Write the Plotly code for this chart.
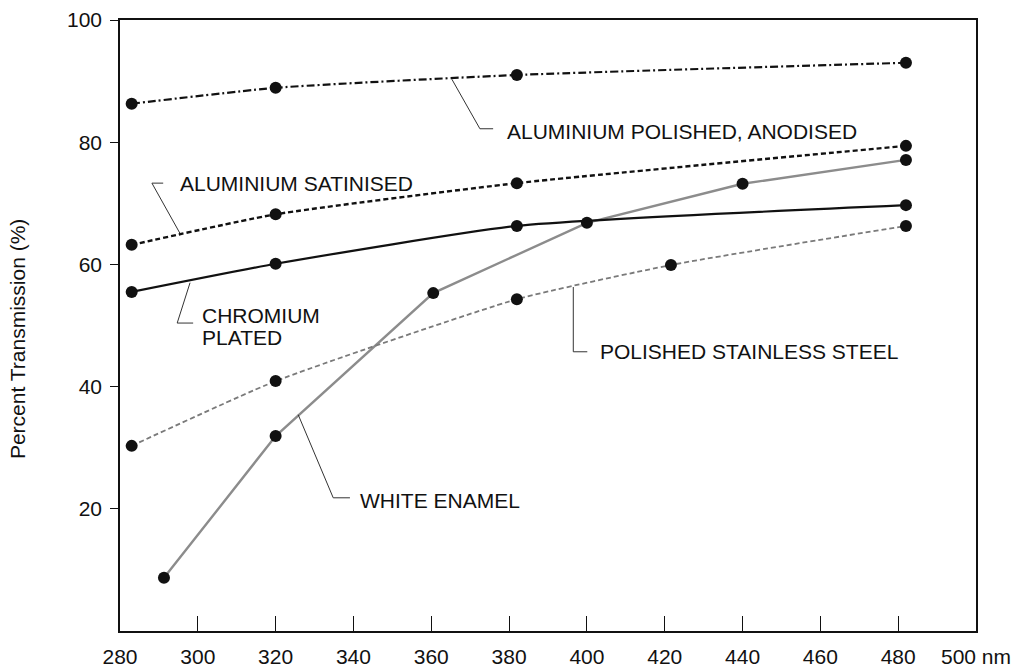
import plotly.graph_objects as go

# ---------------- data ----------------
wl_main = [283, 320, 382, 482]
anodised = [86.3, 88.9, 91.0, 93.0]
satinised = [63.2, 68.2, 73.3, 79.4]
chromium = [55.5, 60.1, 66.3, 69.7]

wl_steel = [283, 320, 382, 421.6, 482]
steel = [30.3, 40.9, 54.3, 59.9, 66.3]

wl_enamel = [291.3, 320, 360.5, 400, 440, 482]
enamel = [8.7, 31.9, 55.3, 66.8, 73.2, 77.1]

x_tickvals = [280, 300, 320, 340, 360, 380, 400, 420, 440, 460, 480, 500]
x_ticktext = ["280", "300", "320", "340", "360", "380", "400", "420", "440", "460", "480", "500 nm"]
y_tickvals = [20, 40, 60, 80, 100]
y_ticktext = ["20", "40", "60", "80", "100"]

# labels: text, text anchor (x, y), leader polyline (data coords)
label_texts = ["ALUMINIUM POLISHED, ANODISED", "ALUMINIUM SATINISED", "CHROMIUM", "PLATED",
               "POLISHED STAINLESS STEEL", "WHITE ENAMEL"]
label_x = [379.0, 294.9, 300.6, 300.6, 402.9, 341.2]
label_y = [81.8, 73.3, 51.7, 48.1, 45.7, 21.4]
leader_x = [[365.3, 372.5, 375.9], [295.4, 288.2, 291.1], [298.0, 294.7, 298.8],
            [396.5, 396.5, 400.1], [325.8, 334.8, 339.1]]
leader_y = [[90.3, 82.2, 82.2], [65.1, 73.3, 73.3], [57.0, 50.4, 50.4],
            [56.3, 45.7, 45.7], [35.4, 21.8, 21.8]]

FONT = "Liberation Sans, Arial, Helvetica, sans-serif"

fig = go.Figure()

series = [
    (wl_enamel, enamel, "White enamel", dict(color="#8c8c8c", width=2.4), "linear"),
    (wl_steel, steel, "Polished stainless steel", dict(color="#7a7a7a", width=1.8, dash="5px,3px"), "spline"),
    (wl_main, chromium, "Chromium plated", dict(color="#111111", width=2.2), "spline"),
    (wl_main, satinised, "Aluminium satinised", dict(color="#111111", width=2.4, dash="5px,3px"), "spline"),
    (wl_main, anodised, "Aluminium polished, anodised", dict(color="#111111", width=2.2, dash="8px,3px,2px,3px"), "spline"),
]
for xs, ys, name, ln, shape in series:
    ln = dict(ln)
    ln["shape"] = shape
    if shape == "spline":
        ln["smoothing"] = 0.5
    fig.add_trace(go.Scatter(
        x=xs, y=ys, name=name, mode="lines+markers",
        line=ln,
        marker=dict(size=12, color="#111111", line=dict(width=0)),
        showlegend=False,
    ))

# leader lines
for lx, ly in zip(leader_x, leader_y):
    path = "M " + " L ".join(f"{a},{b}" for a, b in zip(lx, ly))
    fig.add_shape(type="path", path=path, xref="x", yref="y",
                  line=dict(color="#333333", width=1))

for t, x, y in zip(label_texts, label_x, label_y):
    fig.add_annotation(x=x, y=y, xref="x", yref="y", text=t, showarrow=False,
                       xanchor="left", yanchor="middle",
                       font=dict(family=FONT, size=21, color="#111111"))

# y-axis title
fig.add_annotation(x=-0.119, y=0.478, xref="paper", yref="paper",
                   text="Percent Transmission (%)", textangle=-90, showarrow=False,
                   xanchor="center", yanchor="middle",
                   font=dict(family=FONT, size=21, color="#111111"))

fig.update_layout(
    width=1020, height=670,
    margin=dict(l=120, r=44, t=20, b=39, autoexpand=False),
    paper_bgcolor="white", plot_bgcolor="white",
    font=dict(family=FONT, size=21, color="#111111"),
    xaxis=dict(range=[280, 500], tickvals=x_tickvals, ticktext=x_ticktext,
               ticks="inside", ticklen=15, tickwidth=1.2, tickcolor="#111111",
               showline=True, linecolor="#111111", linewidth=1.5, mirror=True,
               showgrid=False, zeroline=False, ticklabelstandoff=6, automargin=False,
               tickfont=dict(family=FONT, size=21, color="#111111")),
    yaxis=dict(range=[0, 100], tickvals=y_tickvals, ticktext=y_ticktext,
               ticks="outside", ticklen=8, tickwidth=1.2, tickcolor="#111111",
               showline=True, linecolor="#111111", linewidth=1.5, mirror=True,
               showgrid=False, zeroline=False, ticklabelstandoff=4, automargin=False,
               tickfont=dict(family=FONT, size=21, color="#111111")),
)

fig.write_html("out.html")
